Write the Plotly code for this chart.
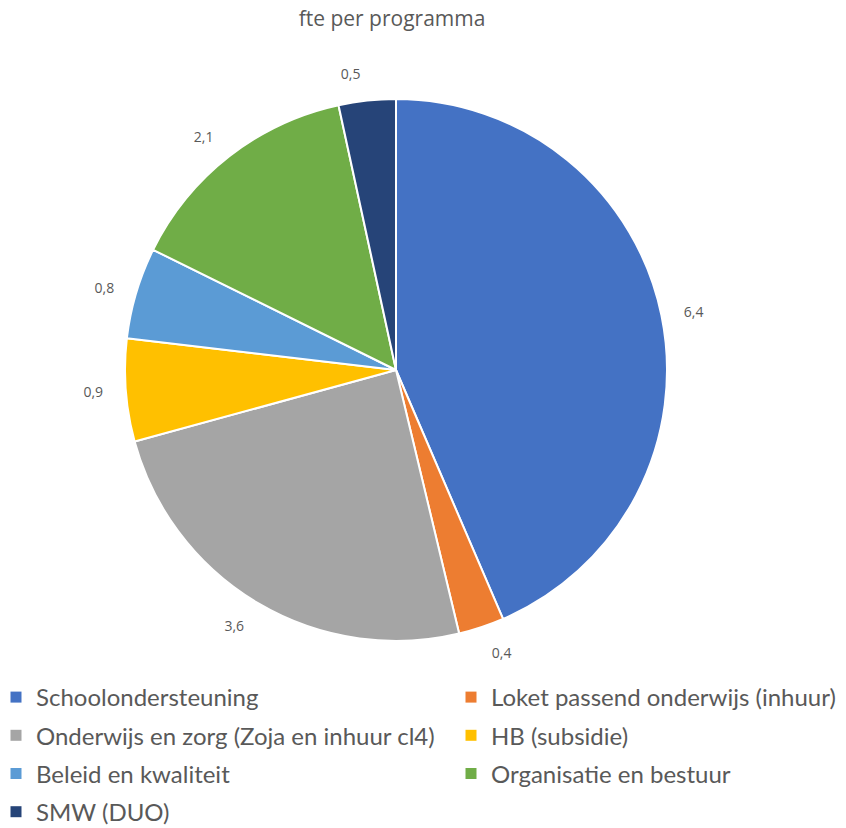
import plotly.graph_objects as go

categories = [
    "Schoolondersteuning",
    "Loket passend onderwijs (inhuur)",
    "Onderwijs en zorg (Zoja en inhuur cl4)",
    "HB (subsidie)",
    "Beleid en kwaliteit",
    "Organisatie en bestuur",
    "SMW (DUO)",
]
fte_values = [6.4, 0.4, 3.6, 0.9, 0.8, 2.1, 0.5]
colors = ["#4472C4", "#ED7D31", "#A5A5A5", "#FFC000", "#5B9BD5", "#70AD47", "#264478"]

W, H = 846, 828
cx, cy, r = 396, 370, 271
r_lab = 289


def dom(rad):
    return dict(x=[(cx - rad) / W, (cx + rad) / W],
                y=[(H - cy - rad) / H, (H - cy + rad) / H])


fig = go.Figure()
fig.add_trace(go.Pie(
    labels=categories, values=fte_values, sort=False, direction="clockwise",
    rotation=0, marker=dict(colors=colors, line=dict(color="white", width=2)),
    textinfo="none", domain=dom(r), hoverinfo="label+value", showlegend=False,
))
fig.add_trace(go.Pie(
    labels=categories, values=fte_values, sort=False, direction="clockwise",
    rotation=0, marker=dict(colors=["rgba(0,0,0,0)"] * len(categories), line=dict(width=0)),
    texttemplate="%{value:.1f}", textposition="outside",
    textfont=dict(family="Open Sans", size=14, color="#595959"),
    domain=dom(r_lab), showlegend=False, hoverinfo="skip",
))

# legend entries (two columns like the original: even index left, odd index right)
for i, (cat, col) in enumerate(zip(categories, colors)):
    fig.add_trace(go.Scatter(
        x=[None], y=[None], mode="markers", name=cat,
        marker=dict(symbol="square", size=11, color=col),
        legend="legend" if i % 2 == 0 else "legend2",
        legendgroup=cat, hoverinfo="skip",
    ))

legend_font = dict(family="Lato", size=24, color="#595959")
fig.update_layout(
    width=W, height=H,
    margin=dict(l=0, r=0, t=0, b=0, autoexpand=False),
    paper_bgcolor="white", plot_bgcolor="white",
    separators=",.",
    xaxis=dict(visible=False), yaxis=dict(visible=False),
    title=dict(text="fte per programma", x=392 / W, xanchor="center", y=1 - 19 / H, yanchor="middle",
               font=dict(family="Open Sans", size=21, color="#595959")),
    legend=dict(orientation="v", x=-4 / W, xanchor="left", y=1 - 675 / H, yanchor="top",
                font=legend_font, itemclick=False, tracegroupgap=4, bgcolor="rgba(0,0,0,0)"),
    legend2=dict(orientation="v", x=451 / W, xanchor="left", y=1 - 675 / H, yanchor="top",
                 font=legend_font, itemclick=False, tracegroupgap=4, bgcolor="rgba(0,0,0,0)"),
)

fig.write_html("out.html", config={"displayModeBar": False},
               post_script="document.body.style.margin='0';document.body.style.padding='0';")
